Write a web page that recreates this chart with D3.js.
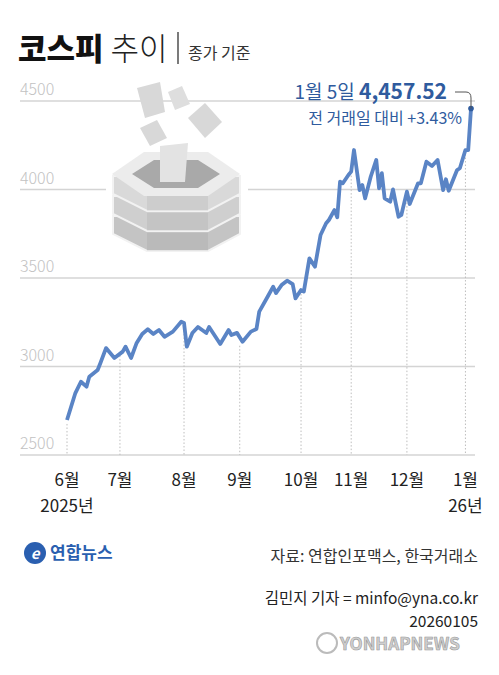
<!DOCTYPE html>
<html><head><meta charset="utf-8">
<script src="https://cdn.jsdelivr.net/npm/d3@7"></script>
<style>body{margin:0;background:#fff}svg{font-family:"Noto Sans CJK KR","Noto Sans",sans-serif}</style>
</head><body><svg id="c" width="499" height="675"></svg>
<script>
// trading-day index and closing value
const days = [0,3,5,7,8,11,12,14,17,20,21,23,25,27,29,31,33,35,38,41,42,43,45,47,50,51,55,58,59,61,63,66,68,69,72,74,75,77,79,81,82,84,85,87,89,91,93,94,96,97,98,99,101,102,103,105,106,107,109,111,112,113,114,116,117,118,119,120,122,123,126,127,129,131,133,135,136,137,140,141,143,144,145];
const closes = [2698,2850,2914,2886,2942,2980,3020,3104,3048,3084,3112,3048,3133,3184,3210,3184,3206,3168,3197,3253,3246,3112,3189,3223,3189,3223,3127,3206,3178,3190,3140,3197,3212,3310,3394,3451,3415,3460,3485,3466,3385,3432,3423,3611,3564,3743,3809,3828,3884,3843,4044,4035,4082,4101,4223,3997,4025,3950,4072,4167,4007,4092,3950,3931,4001,3922,3846,3856,3988,3918,4035,4035,4157,4133,4167,3997,4058,3993,4110,4120,4223,4223,4457.52];
const monthDays = [0,19,42,62,84,102,122,143];
const monthLabels = ["6월","7월","8월","9월","10월","11월","12월","1월"];
const yTicks = [2500,3000,3500,4000,4500];

const svg = d3.select("#c");
const x = d3.scaleLinear().domain([0,145]).range([67,471]);
const y = d3.scaleLinear().domain([2500,4500]).range([455,101]);
const blue = "#2f5b9e";

// title
const t = svg.append("text").attr("x",18).attr("y",60);
t.append("tspan").text("코스피").attr("font-size",31).attr("font-weight",900).attr("fill","#111");
t.append("tspan").text(" 추이").attr("font-size",31).attr("font-weight",300).attr("fill","#222");
svg.append("line").attr("x1",178).attr("x2",178).attr("y1",32).attr("y2",64).attr("stroke","#222").attr("stroke-width",1.2);
svg.append("text").attr("x",188).attr("y",59).text("종가 기준").attr("font-size",16).attr("fill","#333");

// grid
svg.selectAll(".g").data(yTicks).join("line")
  .attr("x1",20).attr("x2",475).attr("y1",d=>y(d)).attr("y2",d=>y(d))
  .attr("stroke","#d4d4d4").attr("stroke-width",1.3);
svg.selectAll(".yl").data(yTicks).join("text")
  .attr("x",20).attr("y",d=>y(d)-6).text(d=>d)
  .attr("font-size",16).attr("fill","#c2c2c2").attr("font-weight",300);

// icon
const ic = svg.append("g");
const hex = (cx,cy,rx,ry)=>[[cx-rx,cy],[cx-rx/2,cy-ry],[cx+rx/2,cy-ry],[cx+rx,cy],[cx+rx/2,cy+ry],[cx-rx/2,cy+ry]];
ic.append("rect").attr("x",106).attr("y",150).attr("width",142).attr("height",105).attr("fill","#fff");
[[234,"#c4c4c4"],[214,"#cfcfcf"],[194,"#d9d9d9"]].forEach(([cy,c])=>{
  ic.append("path").attr("d",d3.line()([[113,cy-18],[113,cy],[147,cy+17],[208,cy+17],[240,cy],[240,cy-18]])+"Z").attr("fill",c).attr("stroke","#f2f2f2").attr("stroke-width",2);
  ic.append("path").attr("d",d3.line()([[147,cy-1],[147,cy+17],[208,cy+17],[208,cy-1]])+"Z").attr("fill","#000").attr("opacity",0.05);
});
ic.append("path").attr("d",d3.line()(hex(176,174,64,22))+"Z").attr("fill","#ececec");
ic.append("path").attr("d",d3.line()(hex(176,174,44,14))+"Z").attr("fill","#a9a9a9");
ic.append("path").attr("d","M160,146 L188,143 L185,182 L160,182 Z").attr("fill","#e3e3e3");
ic.append("path").attr("d","M137,88 L160,82 L165,112 L145,118 Z").attr("fill","#d8d8d8");
ic.append("path").attr("d","M188,118 L205,103 L222,122 L205,138 Z").attr("fill","#d8d8d8");
ic.append("path").attr("d","M140,128 L157,120 L167,138 L150,146 Z").attr("fill","#d8d8d8");
ic.append("path").attr("d","M168,92 L182,86 L190,104 L175,110 Z").attr("fill","#dedede");

// month dotted lines
svg.selectAll(".v").data(monthDays).join("line")
  .attr("x1",d=>x(d)).attr("x2",d=>x(d)).attr("y1",(d,i)=>{
     const j=days.findIndex(v=>v>=d); return y(closes[j])+4;})
  .attr("y2",455).attr("stroke","#bdbdbd").attr("stroke-dasharray","1.5,2");

// line
svg.append("path").datum(days.map((d,i)=>[d,closes[i]]))
  .attr("d",d3.line().x(d=>x(d[0])).y(d=>y(d[1])))
  .attr("fill","none").attr("stroke","#5a84c5").attr("stroke-width",3.8).attr("stroke-linejoin","round");
svg.append("circle").attr("cx",x(145)).attr("cy",y(4457.52)).attr("r",2.8).attr("fill",blue);
svg.append("path").attr("d",`M455,92 L466,92 Q471,92 471,98 L471,${y(4457.52)}`).attr("fill","none").attr("stroke","#555").attr("stroke-width",1);

// annotation
const a = svg.append("text").attr("x",447).attr("y",99).attr("text-anchor","end").attr("fill",blue);
a.append("tspan").text("1월 5일 ").attr("font-size",19);
a.append("tspan").text("4,457.52").attr("font-size",21).attr("font-weight",700);
svg.append("text").attr("x",462).attr("y",124).attr("text-anchor","end").attr("fill",blue).attr("font-size",16).text("전 거래일 대비 +3.43%");

// x labels
svg.selectAll(".xl").data(monthDays).join("text")
  .attr("x",d=>x(d)).attr("y",486).attr("text-anchor","middle").text((d,i)=>monthLabels[i])
  .attr("font-size",17).attr("fill","#222");
svg.append("text").attr("x",x(0)).attr("y",512).attr("text-anchor","middle").attr("font-size",17).attr("fill","#222").text("2025년");
svg.append("text").attr("x",x(143)).attr("y",512).attr("text-anchor","middle").attr("font-size",17).attr("fill","#222").text("26년");

// footer
svg.append("circle").attr("cx",35).attr("cy",553).attr("r",11).attr("fill","#2a5fb0");
svg.append("text").attr("x",35).attr("y",559).attr("text-anchor","middle").attr("fill","#fff").attr("font-size",15).attr("font-weight",700).attr("font-style","italic").text("e");
svg.append("text").attr("x",50).attr("y",559).attr("font-size",17).attr("font-weight",700).attr("fill","#2a5fb0").text("연합뉴스");
svg.append("text").attr("x",478).attr("y",562).attr("text-anchor","end").attr("font-size",16).attr("fill","#333").text("자료: 연합인포맥스, 한국거래소");
svg.append("text").attr("x",478).attr("y",604).attr("text-anchor","end").attr("font-size",15.5).attr("fill","#222").text("김민지 기자 = minfo@yna.co.kr");
svg.append("text").attr("x",478).attr("y",627).attr("text-anchor","end").attr("font-size",15.5).attr("fill","#222").text("20260105");
svg.append("circle").attr("cx",327).attr("cy",643).attr("r",10).attr("fill","none").attr("stroke","#bbb").attr("stroke-width",2);
svg.append("text").attr("x",340).attr("y",650).attr("font-size",17).attr("font-weight",700).attr("fill","#cfcfcf").attr("stroke","#999").attr("stroke-width",0.6).text("YONHAPNEWS");
</script></body></html>
